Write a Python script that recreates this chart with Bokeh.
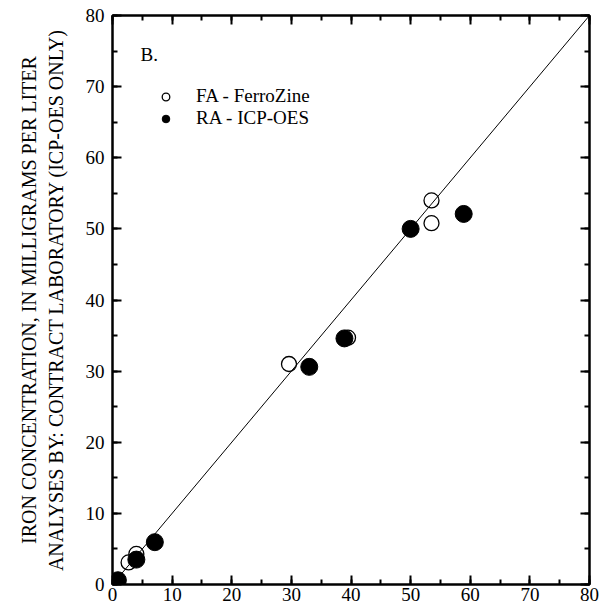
from bokeh.plotting import figure
from bokeh.models import (LinearAxis, SingleIntervalTicker, Slope, Legend, LegendItem,
                          Label, CustomJSTickFormatter, Range1d)
from bokeh.embed import file_html
from bokeh.resources import INLINE

# Data
fa_x = [2.7, 4.0, 29.6, 39.5, 53.5, 53.5]
fa_y = [3.1, 4.3, 31.0, 34.7, 54.0, 50.8]
ra_x = [0.9, 4.0, 7.1, 33.0, 38.9, 50.0, 58.9]
ra_y = [0.6, 3.5, 5.95, 30.6, 34.6, 50.0, 52.1]
fa_label = "FA - FerroZine"
ra_label = "RA - ICP-OES"
panel_label = "B."
y_title = "IRON CONCENTRATION, IN MILLIGRAMS PER LITER\nANALYSES BY: CONTRACT LABORATORY (ICP-OES ONLY)"

FONT = "Liberation Serif"
FH = 569

p = figure(width=600, height=612, output_backend="svg", toolbar_location=None,
           x_range=Range1d(0, 80), y_range=Range1d(0, 80),
           min_border_left=112, min_border_right=11, min_border_top=15, min_border_bottom=28)
p.grid.visible = False
p.outline_line_color = "black"
p.outline_line_width = 2
p.background_fill_color = "white"
p.border_fill_color = "white"

def style_axis(ax, labels=True):
    ax.ticker = SingleIntervalTicker(interval=10, num_minor_ticks=2)
    ax.axis_line_width = 2
    ax.axis_line_color = "black"
    ax.major_tick_line_width = 2
    ax.minor_tick_line_width = 2
    ax.major_tick_line_color = "black"
    ax.minor_tick_line_color = "black"
    ax.major_tick_in = 9
    ax.major_tick_out = 0
    ax.minor_tick_in = 5
    ax.minor_tick_out = 0
    ax.major_label_text_font = FONT
    ax.major_label_text_color = "black"
    if labels:
        ax.major_label_text_font_size = "19px"
    else:
        ax.formatter = CustomJSTickFormatter(code="return ''")
        ax.major_label_text_font_size = "1px"
        ax.major_label_standoff = 0

style_axis(p.xaxis[0])
style_axis(p.yaxis[0])
p.xaxis[0].major_label_standoff = 3
p.yaxis[0].major_label_standoff = 8

top = LinearAxis()
right = LinearAxis()
style_axis(top, labels=False)
style_axis(right, labels=False)
p.add_layout(top, "above")
p.add_layout(right, "right")

p.yaxis[0].axis_label = y_title
p.yaxis[0].axis_label_text_font = FONT
p.yaxis[0].axis_label_text_font_size = "20px"
p.yaxis[0].axis_label_text_font_style = "normal"
p.yaxis[0].axis_label_text_color = "black"
p.yaxis[0].axis_label_standoff = 16

p.add_layout(Slope(gradient=1, y_intercept=0, line_color="black", line_width=1))

r_fa = p.scatter(fa_x, fa_y, size=15, marker="circle", fill_color=None,
                 line_color="black", line_width=1.3)
r_ra = p.scatter(ra_x, ra_y, size=17, marker="circle", fill_color="black",
                 line_color="black")

legend = Legend(items=[LegendItem(label=fa_label, renderers=[r_fa]),
                       LegendItem(label=ra_label, renderers=[r_ra])],
                location=(41, FH - 114), padding=0, margin=0, spacing=0,
                glyph_width=25, glyph_height=19, label_height=19, label_standoff=18,
                label_text_font=FONT, label_text_font_size="19px",
                label_text_color="black",
                border_line_color=None, background_fill_alpha=0)
p.add_layout(legend, "center")

p.add_layout(Label(x=28, y=FH - 39, x_units="screen", y_units="screen", text=panel_label,
                   text_font=FONT, text_font_size="19px", text_baseline="middle",
                   text_color="black"))

open("out.html", "w").write(file_html(p, INLINE))
